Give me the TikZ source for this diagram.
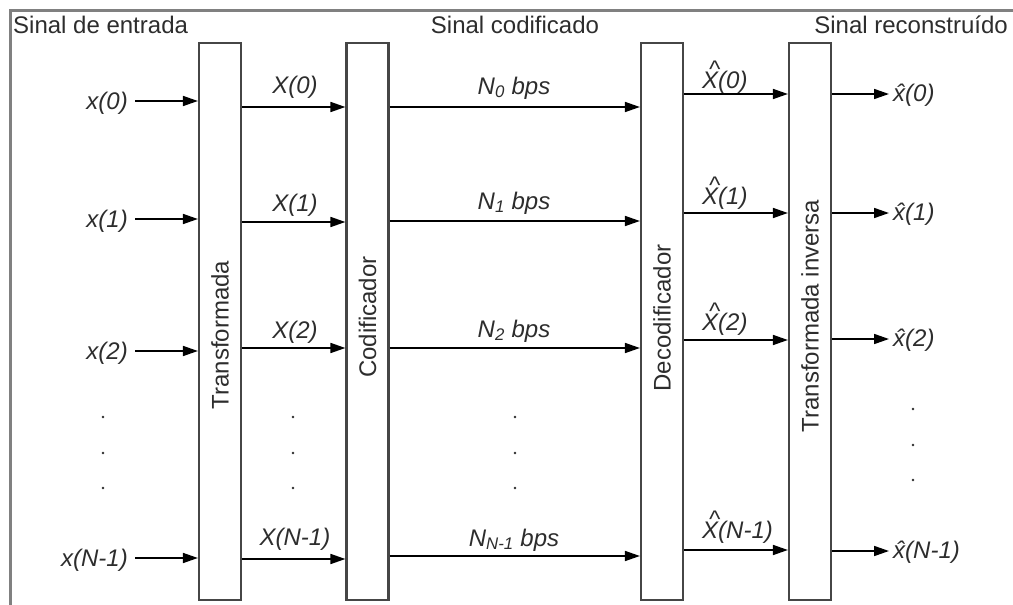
\documentclass[tikz,border=0pt]{standalone}
\usepackage{fontspec}
\setmainfont{Liberation Sans}
\usetikzlibrary{arrows.meta}
\definecolor{framegray}{RGB}{128,128,128}
\definecolor{boxgray}{RGB}{70,70,70}
\definecolor{txtgray}{RGB}{45,45,45}
\newcommand{\hatX}[1]{\leavevmode\rlap{\kern0.28em\raisebox{0.42em}{\^{}}}#1}
\tikzset{
  blk/.style={draw=boxgray, line width=2.2pt, fill=white, minimum width=42pt, minimum height=557pt, inner sep=0pt},
  blklabel/.style={rotate=90, text=txtgray, inner sep=0pt},
  arr/.style={-{Triangle[length=15pt,width=10pt]}, line width=1.7pt, black},
  lbl/.style={text=txtgray, inner sep=0pt, font=\fontsize{24}{28}\selectfont\itshape},
  title/.style={text=txtgray, inner sep=0pt},
  vdot/.style={fill=txtgray}
}
\begin{document}
\begin{tikzpicture}[x=1pt,y=-1pt,font=\fontsize{24}{28}\selectfont]
\useasboundingbox (0,0) rectangle (1013,605);
\fill[white] (0,0) rectangle (1013,605);
% frame
\draw[framegray, line width=3pt] (10,605) -- (10,10) -- (1013,10);
% titles
\node[title, anchor=base west] (t1) at (13,33) {Sinal de entrada};
\node[title, anchor=base] (t2) at (515,33) {Sinal codificado};
\node[title, anchor=base east] (t3) at (1008,33) {Sinal reconstruído};
% blocks
\node[blk] (T) at (220,321.5) {};
\node[blk] (C) at (367.5,321.5) {};
\node[blk] (D) at (662,321.5) {};
\node[blk] (I) at (810,321.5) {};
\node[blklabel] (Tl) at (220,335) {Transformada};
\node[blklabel] (Cl) at (367.5,317) {Codificador};
\node[blklabel] (Dl) at (662,318) {Decodificador};
\node[blklabel] (Il) at (810,316) {Transformada inversa};
% row coordinates
\coordinate (a0) at (0,101); \coordinate (a1) at (0,219); \coordinate (a2) at (0,351); \coordinate (a3) at (0,558);
\coordinate (b0) at (0,107); \coordinate (b1) at (0,222); \coordinate (b2) at (0,348); \coordinate (b3) at (0,559);
\coordinate (c0) at (0,107); \coordinate (c1) at (0,221); \coordinate (c2) at (0,348); \coordinate (c3) at (0,556);
\coordinate (d0) at (0,94);  \coordinate (d1) at (0,213); \coordinate (d2) at (0,340); \coordinate (d3) at (0,550);
\coordinate (e0) at (0,94);  \coordinate (e1) at (0,213); \coordinate (e2) at (0,339); \coordinate (e3) at (0,551);
% input labels
\node[lbl, anchor=east, inner xsep=7pt] (in0) at (135,103) {x(0)};
\node[lbl, anchor=east, inner xsep=7pt] (in1) at (135,221) {x(1)};
\node[lbl, anchor=east, inner xsep=7pt] (in2) at (135,353) {x(2)};
\node[lbl, anchor=east, inner xsep=7pt] (in3) at (135,560) {x(N-1)};
\foreach \i in {0,1,2,3} {
  \draw[arr] (in\i.east |- a\i) -- (T.west |- a\i);
  \draw[arr] (T.east |- b\i) -- (C.west |- b\i);
  \draw[arr] (C.east |- c\i) -- (D.west |- c\i);
  \draw[arr] (D.east |- d\i) -- (I.west |- d\i);
}
% stage-2 labels
\node[lbl, anchor=base] (X0) at (295,93) {X(0)};
\node[lbl, anchor=base] (X1) at (295,211) {X(1)};
\node[lbl, anchor=base] (X2) at (295,338) {X(2)};
\node[lbl, anchor=base] (X3) at (295,545) {X(N-1)};
% stage-3 labels
\node[lbl, anchor=base] (N0) at (514,94) {N\textsubscript{0} bps};
\node[lbl, anchor=base] (N1) at (514,209) {N\textsubscript{1} bps};
\node[lbl, anchor=base] (N2) at (514,337) {N\textsubscript{2} bps};
\node[lbl, anchor=base] (N3) at (514,546) {N\textsubscript{N-1} bps};
% stage-4 labels
\node[lbl, anchor=base west] (H0) at (702,88) {\hatX{X}(0)};
\node[lbl, anchor=base west] (H1) at (702,204) {\hatX{X}(1)};
\node[lbl, anchor=base west] (H2) at (702,330) {\hatX{X}(2)};
\node[lbl, anchor=base west] (H3) at (702,538) {\hatX{X}(N-1)};
% outputs
\node[lbl, anchor=west, inner xsep=4pt] (o0) at (889,95) {\^{x}(0)};
\node[lbl, anchor=west, inner xsep=4pt] (o1) at (889,214) {\^{x}(1)};
\node[lbl, anchor=west, inner xsep=4pt] (o2) at (889,340) {\^{x}(2)};
\node[lbl, anchor=west, inner xsep=4pt] (o3) at (889,552) {\^{x}(N-1)};
\foreach \i in {0,1,2,3} {
  \draw[arr] (I.east |- e\i) -- (o\i.west |- e\i);
}
% vertical dots
\foreach \x in {103,293,515} {
  \foreach \y in {417,453,488} { \fill[vdot] (\x,\y) circle (1.3pt); }
}
\foreach \y in {409,445,480} { \fill[vdot] (913,\y) circle (1.3pt); }
\end{tikzpicture}
\end{document}
